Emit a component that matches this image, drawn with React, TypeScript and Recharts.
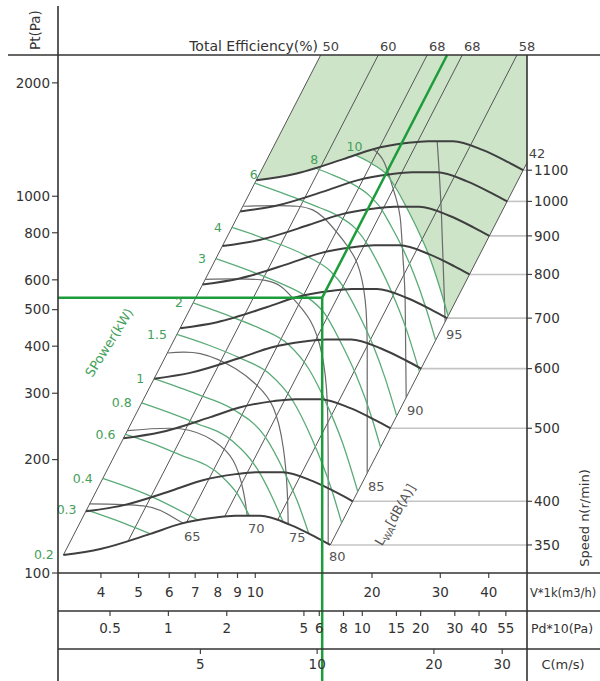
import React from "react";
import {
  ComposedChart,
  Line,
  Area,
  Scatter,
  XAxis,
  YAxis,
  ReferenceLine,
} from "recharts";

const FONT = "'DejaVu Sans', Verdana, sans-serif";

// axis ranges and tick values
const V_DOMAIN = [3.1, 50.2];
const PT_DOMAIN = [100, 2371];
const PD_DOMAIN = [0.2696, 70.7];
const C_DOMAIN = [2.147, 34.76];
const V_TICKS = [4, 5, 6, 7, 8, 9, 10, 20, 30, 40];
const PD_TICKS = [0.5, 1, 2, 5, 6, 8, 10, 15, 20, 30, 40, 55];
const C_TICKS = [5, 10, 20, 30];
const PT_TICKS = [100, 200, 300, 400, 500, 600, 800, 1000, 2000];

// fan curves at each speed: [V (1000 m3/h), Pt (Pa)]
const SPEEDS = [350, 400, 500, 600, 700, 800, 900, 1000, 1100];
const N350 = [[3.2, 111.6], [3.986, 115.8], [5.363, 127.0], [6.408, 135.0], [7.796, 140.1], [8.882, 141.8], [10.3, 141.8], [12.31, 134.2], [14.28, 124.7], [15.61, 118.7]];
const N400 = [[3.657, 145.8], [4.556, 151.2], [6.129, 165.9], [7.324, 176.3], [8.91, 183.0], [10.15, 185.2], [11.77, 185.2], [14.07, 175.3], [16.32, 162.9], [17.84, 155.0]];
const N500 = [[4.571, 227.8], [5.694, 236.3], [7.662, 259.2], [9.154, 275.5], [11.14, 285.9], [12.69, 289.4], [14.71, 289.4], [17.59, 273.9], [20.4, 254.5], [22.3, 242.2]];
const N600 = [[5.486, 328.0], [6.833, 340.3], [9.194, 373.2], [10.99, 396.7], [13.36, 411.7], [15.23, 416.7], [17.66, 416.7], [21.1, 394.4], [24.48, 366.5], [26.76, 348.8]];
const N700 = [[6.4, 446.4], [7.972, 463.2], [10.73, 508.0], [12.82, 540.0], [15.59, 560.4], [17.76, 567.2], [20.6, 567.2], [24.62, 536.8], [28.56, 498.8], [31.22, 474.8]];
const N800 = [[7.314, 583.1], [9.111, 605.0], [12.26, 663.5], [14.65, 705.3], [17.82, 732.0], [20.3, 740.8], [23.54, 740.8], [28.14, 701.1], [32.64, 651.5], [35.68, 620.1]];
const N900 = [[8.228, 737.9], [10.25, 765.7], [13.79, 839.8], [16.48, 892.6], [20.05, 926.4], [22.84, 937.6], [26.49, 937.6], [31.65, 887.4], [36.72, 824.5], [40.14, 784.9]];
const N1000 = [[9.143, 911.0], [11.39, 945.3], [15.32, 1036.7], [18.31, 1102.0], [22.27, 1143.7], [25.38, 1157.6], [29.43, 1157.6], [35.17, 1095.5], [40.8, 1017.9], [44.6, 969.0]];
const N1100 = [[10.06, 1102.3], [12.53, 1143.8], [16.86, 1254.5], [20.14, 1333.5], [24.5, 1383.9], [27.92, 1400.6], [32.37, 1400.6], [38.69, 1325.6], [44.88, 1231.7], [49.06, 1172.5]];
const SPEED_CURVES = [N350, N400, N500, N600, N700, N800, N900, N1000, N1100];

// shaft power lines (kW)
const POWER_VALUES = ["0.2", "0.3", "0.4", "0.6", "0.8", "1", "1.5", "2", "3", "4", "6", "8", "10"];
const W02 = [[3.208, 112.2], [3.251, 111.9]];
const W03 = [[3.673, 147.0], [4.597, 135.4], [5.363, 127.0]];
const W04 = [[4.043, 178.2], [5.42, 159.3], [7.154, 137.7]];
const W06 = [[4.627, 233.4], [4.854, 229.9], [6.293, 207.5], [8.216, 180.1], [9.012, 161.6], [9.656, 141.8]];
const W08 = [[5.093, 282.7], [6.952, 250.9], [8.746, 223.7], [10.24, 185.2], [10.95, 162.3], [11.82, 136.0]];
const W1 = [[5.486, 328.0], [7.048, 298.7], [8.787, 271.5], [10.58, 230.7], [11.91, 184.6], [12.84, 155.0], [13.74, 127.3]];
const W15 = [[6.28, 429.9], [7.563, 402.9], [9.118, 372.2], [10.89, 337.6], [12.44, 288.8], [13.96, 228.6], [15.75, 166.0], [16.7, 135.8]];
const W2 = [[6.913, 520.9], [8.788, 476.4], [10.34, 444.6], [12.175, 404.2], [13.72, 349.0], [15.13, 287.2], [16.78, 221.9], [18.38, 164.5]];
const W3 = [[7.914, 682.7], [10.1, 623.3], [11.71, 585.5], [13.44, 544.6], [15.14, 486.5], [16.47, 416.7], [18.14, 337.8], [20.0, 257.1], [21.04, 215.6]];
const W4 = [[8.707, 826.3], [10.56, 772.2], [13.73, 689.1], [15.61, 633.1], [17.08, 565.0], [18.4, 490.6], [20.16, 400.5], [21.63, 328.6], [23.16, 261.2]];
const W6 = [[9.969, 1083.2], [12.95, 981.6], [14.72, 930.7], [16.28, 888.8], [18.15, 820.2], [19.58, 738.3], [20.95, 649.4], [22.56, 552.3], [24.39, 450.8], [26.51, 342.3]];
const W8 = [[14.28, 1188.5], [15.87, 1137.8], [17.57, 1086.0], [19.62, 1007.1], [21.06, 930.5], [22.34, 837.3], [23.82, 738.5], [25.68, 619.9], [27.48, 509.2], [29.18, 414.7]];
const W10 = [[18.13, 1285.1], [19.92, 1222.7], [21.86, 1139.4], [23.31, 1030.9], [24.5, 937.6], [26.03, 828.2], [27.95, 702.7], [29.81, 578.9], [31.43, 481.1]];
const POWER_LINES = [W02, W03, W04, W06, W08, W1, W15, W2, W3, W4, W6, W8, W10];

// sound power level contours, LwA dB(A)
const NOISE_VALUES = ["65", "70", "75", "80", "85", "90", "95"];
const L65 = [[3.735, 152.6], [5.143, 150.7], [5.933, 143.5], [6.524, 135.4]];
const L70 = [[4.678, 238.6], [6.408, 241.5], [7.796, 224.4], [8.776, 198.6], [9.313, 165.2], [9.537, 141.8]];
const L75 = [[5.933, 383.7], [7.215, 382.3], [8.882, 348.8], [10.12, 314.3], [11.13, 274.8], [11.81, 215.0], [12.09, 165.2], [12.16, 134.8]];
const L80 = [[7.431, 601.9], [10.61, 597.9], [12.31, 545.6], [13.86, 468.0], [14.88, 377.7], [15.33, 286.8], [15.42, 190.0], [15.42, 119.6]];
const L85 = [[9.313, 940.6], [12.83, 940.6], [14.97, 879.5], [16.86, 763.8], [18.32, 663.4], [19.21, 528.9], [19.44, 396.7], [19.44, 275.0], [19.44, 184.0]];
const L90 = [[20.14, 1333.5], [21.5, 1231.4], [22.82, 1024.7], [23.64, 879.5], [24.06, 675.7], [24.35, 528.9], [24.5, 292.3]];
const L95 = [[29.45, 1400.6], [30.2, 900.0], [30.88, 464.4]];
const NOISE_LINES = [L65, L70, L75, L80, L85, L90, L95];

// total efficiency lines (%)
const EFF_VALUES = ["50", "60", "68", "68", "58", "42"];
const E50 = [[3.2, 111.6], [14.75, 2371]];
const E60 = [[4.7, 121.5], [20.76, 2371]];
const E68A = [[6.65, 136.2], [27.75, 2371]];
const E68B = [[8.33, 140.9], [34.18, 2371]];
const E58 = [[11.4, 137.8], [47.3, 2371]];
const E42 = [[15.61, 118.7], [50.2, 1227]];
const EFF_LINES = [E50, E60, E68A, E68B, E58, E42];

// shaded zone: [V, lower Pt, upper Pt]
const SHADE = [
  [10.06, 1102.3, 1103],
  [12.53, 1143.8, 1711],
  [14.28, 1188.5, 2223],
  [14.75, 1200.6, 2371],
  [16.86, 1254.5, 2371],
  [18.13, 1285.1, 2371],
  [19.92, 1222.7, 2371],
  [21.86, 1139.4, 2371],
  [23.31, 1030.9, 2371],
  [24.5, 937.6, 2371],
  [26.03, 828.2, 2371],
  [27.95, 702.7, 2371],
  [29.81, 578.9, 2371],
  [31.43, 481.1, 2371],
  [50.2, 1227, 2371],
];

// selected duty point and its system line
const DUTY_LEFT = [[3.1, 538], [14.88, 538]];
const DUTY_SYSTEM = [[14.88, 538], [31.24, 2371]];
const DUTY_DOWN = [[14.88, 538], [14.88, 30]];

const pts = (a: number[][]) => a.map(([v, p]) => ({ v, p }));
const SPEED_ENDS = SPEED_CURVES.map((c) => c[c.length - 1][1]);

function PowerTag(props: any) {
  const { cx, cy, payload } = props;
  if (cx == null || cy == null) return null;
  const above = Number(payload.t) >= 6;
  return (
    <text
      x={above ? cx - 1 : cx - 10}
      y={above ? cy - 4 : cy + 4.5}
      textAnchor={above ? "middle" : "end"}
      fontSize={12.5}
      fill="#44a05a"
      fontFamily={FONT}
    >
      {payload.t}
    </text>
  );
}

function NoiseTag(props: any) {
  const { cx, cy, payload } = props;
  if (cx == null || cy == null) return null;
  return (
    <text x={cx + 9} y={cy + 17.5} textAnchor="middle" fontSize={13} fill="#555" fontFamily={FONT}>
      {payload.t}
    </text>
  );
}

function EffTag(props: any) {
  const { cx, cy, payload } = props;
  if (cx == null || cy == null) return null;
  return (
    <text x={cx + 10} y={cy - 4.5} textAnchor="middle" fontSize={13} fill="#444" fontFamily={FONT}>
      {payload.t}
    </text>
  );
}

export default function App() {
  const tickFont = { fontSize: 13.5, fill: "#333", fontFamily: FONT };
  const tickLine = { stroke: "#444", strokeWidth: 1.2 };
  return (
    <div
      style={{
        position: "absolute",
        left: 0,
        top: 0,
        width: 600,
        height: 681,
        background: "#fff",
        fontFamily: FONT,
      }}
    >
      <ComposedChart width={600} height={681} margin={{ top: 55, right: 0, bottom: 0, left: 0 }}>
        <XAxis
          dataKey="v"
          type="number"
          scale="log"
          domain={V_DOMAIN}
          ticks={V_TICKS}
          interval={0}
          height={38}
          axisLine={false}
          tickSize={5}
          tickMargin={9}
          tickLine={tickLine}
          tick={tickFont}
        />
        <XAxis
          xAxisId="x1"
          dataKey="v"
          type="number"
          scale="log"
          domain={PD_DOMAIN}
          ticks={PD_TICKS}
          interval={0}
          height={38}
          axisLine={false}
          tickSize={5}
          tickMargin={7}
          tickLine={tickLine}
          tick={tickFont}
        />
        <XAxis
          xAxisId="x2"
          dataKey="v"
          type="number"
          scale="log"
          domain={C_DOMAIN}
          ticks={C_TICKS}
          interval={0}
          height={32}
          axisLine={false}
          tickSize={5}
          tickMargin={5}
          tickLine={tickLine}
          tick={tickFont}
        />
        <YAxis
          dataKey="p"
          type="number"
          scale="log"
          domain={PT_DOMAIN}
          ticks={PT_TICKS}
          interval={0}
          width={58}
          axisLine={false}
          tickSize={6}
          tickLine={tickLine}
          tick={tickFont}
        />
        <YAxis
          yAxisId="n"
          dataKey="p"
          orientation="right"
          type="number"
          scale="log"
          domain={PT_DOMAIN}
          ticks={SPEED_ENDS}
          interval={0}
          width={73}
          axisLine={false}
          tickSize={5}
          tickLine={tickLine}
          tick={tickFont}
          tickFormatter={(val: number) => {
            const i = SPEED_ENDS.indexOf(val);
            return i >= 0 ? String(SPEEDS[i]) : "";
          }}
        />

        {/* keep the Pd and C scales populated so their ticks render */}
        <Line
          xAxisId="x1"
          data={[{ v: PD_DOMAIN[0], p: PT_DOMAIN[0] }, { v: PD_DOMAIN[1], p: PT_DOMAIN[0] }]}
          dataKey="p"
          stroke="none"
          dot={false}
          activeDot={false}
          isAnimationActive={false}
        />
        <Line
          xAxisId="x2"
          data={[{ v: C_DOMAIN[0], p: PT_DOMAIN[0] }, { v: C_DOMAIN[1], p: PT_DOMAIN[0] }]}
          dataKey="p"
          stroke="none"
          dot={false}
          activeDot={false}
          isAnimationActive={false}
        />

        <Area
          data={SHADE.map(([v, lo, hi]) => ({ v, lo, hi }))}
          dataKey={(d: any) => [d.lo, d.hi]}
          type="linear"
          stroke="none"
          fill="#cde4c8"
          fillOpacity={1}
          isAnimationActive={false}
          dot={false}
          activeDot={false}
        />

        {SPEED_CURVES.map((c, i) => (
          <Line
            key={"lead" + i}
            yAxisId="n"
            data={pts([c[c.length - 1], [V_DOMAIN[1], c[c.length - 1][1]]])}
            dataKey="p"
            type="linear"
            stroke="#c4c4c4"
            strokeWidth={1.6}
            dot={false}
            activeDot={false}
            isAnimationActive={false}
          />
        ))}

        {EFF_LINES.map((l, i) => (
          <Line
            key={"eff" + i}
            data={pts(l)}
            dataKey="p"
            type="linear"
            stroke="#555"
            strokeWidth={1}
            dot={false}
            activeDot={false}
            isAnimationActive={false}
          />
        ))}

        {NOISE_LINES.map((l, i) => (
          <Line
            key={"noise" + i}
            data={pts(l)}
            dataKey="p"
            type="natural"
            stroke="#6a6a6a"
            strokeWidth={1.2}
            dot={false}
            activeDot={false}
            isAnimationActive={false}
          />
        ))}

        {POWER_LINES.map((l, i) => (
          <Line
            key={"pow" + i}
            data={pts(l)}
            dataKey="p"
            type="monotone"
            stroke="#5aab78"
            strokeWidth={1.3}
            dot={false}
            activeDot={false}
            isAnimationActive={false}
          />
        ))}

        {SPEED_CURVES.map((c, i) => (
          <Line
            key={"n" + i}
            data={pts(c)}
            dataKey="p"
            type="monotone"
            stroke="#3f3f3f"
            strokeWidth={2}
            dot={false}
            activeDot={false}
            isAnimationActive={false}
          />
        ))}

        <Line data={pts(DUTY_LEFT)} dataKey="p" type="linear" stroke="#1c9c3a" strokeWidth={2.5} dot={false} activeDot={false} isAnimationActive={false} />
        <Line data={pts(DUTY_SYSTEM)} dataKey="p" type="linear" stroke="#1c9c3a" strokeWidth={2.5} dot={false} activeDot={false} isAnimationActive={false} />
        <ReferenceLine
          segment={[
            { x: DUTY_DOWN[0][0], y: DUTY_DOWN[0][1] },
            { x: DUTY_DOWN[1][0], y: DUTY_DOWN[1][1] },
          ]}
          stroke="#1c9c3a"
          strokeWidth={2.5}
          ifOverflow="visible"
        />

        <Scatter
          data={POWER_LINES.map((l, i) => ({ v: l[0][0], p: l[0][1], t: POWER_VALUES[i] }))}
          dataKey="p"
          shape={PowerTag}
          isAnimationActive={false}
        />
        <Scatter
          data={NOISE_LINES.map((l, i) => ({ v: l[l.length - 1][0], p: l[l.length - 1][1], t: NOISE_VALUES[i] }))}
          dataKey="p"
          shape={NoiseTag}
          isAnimationActive={false}
        />
        <Scatter
          data={EFF_LINES.map((l, i) => ({ v: l[l.length - 1][0], p: l[l.length - 1][1], t: EFF_VALUES[i] }))}
          dataKey="p"
          shape={EffTag}
          isAnimationActive={false}
        />
      </ComposedChart>

      <svg
        width={600}
        height={681}
        style={{ position: "absolute", left: 0, top: 0, pointerEvents: "none" }}
      >
        <g stroke="#333" strokeWidth={1.6}>
          <line x1={8} y1={55} x2={600} y2={55} />
          <line x1={58} y1={6} x2={58} y2={681} />
          <line x1={527} y1={55} x2={527} y2={681} />
          <line x1={58} y1={573} x2={600} y2={573} />
          <line x1={58} y1={611} x2={600} y2={611} />
          <line x1={58} y1={649} x2={600} y2={649} />
        </g>
        <g fontFamily={FONT} fill="#333">
          <text transform="translate(40,30) rotate(-90)" textAnchor="middle" fontSize={13.5}>
            Pt(Pa)
          </text>
          <text x={318} y={51} textAnchor="end" fontSize={14}>
            Total Efficiency(%)
          </text>
          <text x={530} y={597} fontSize={11.5}>
            V*1k(m3/h)
          </text>
          <text x={531} y={633} fontSize={12.5}>
            Pd*10(Pa)
          </text>
          <text x={563} y={669} textAnchor="middle" fontSize={13}>
            C(m/s)
          </text>
          <text transform="translate(589,518) rotate(-90)" textAnchor="middle" fontSize={13}>
            Speed n(r/min)
          </text>
          <text transform="translate(399,517) rotate(-60)" textAnchor="middle" fontSize={13} fill="#555">
            L<tspan fontSize={9} dy={3}>WA</tspan>
            <tspan dy={-3}>[dB(A)]</tspan>
          </text>
          <text transform="translate(113,345) rotate(-58)" textAnchor="middle" fontSize={13} fill="#44a05a">
            SPower(kW)
          </text>
        </g>
      </svg>
    </div>
  );
}
